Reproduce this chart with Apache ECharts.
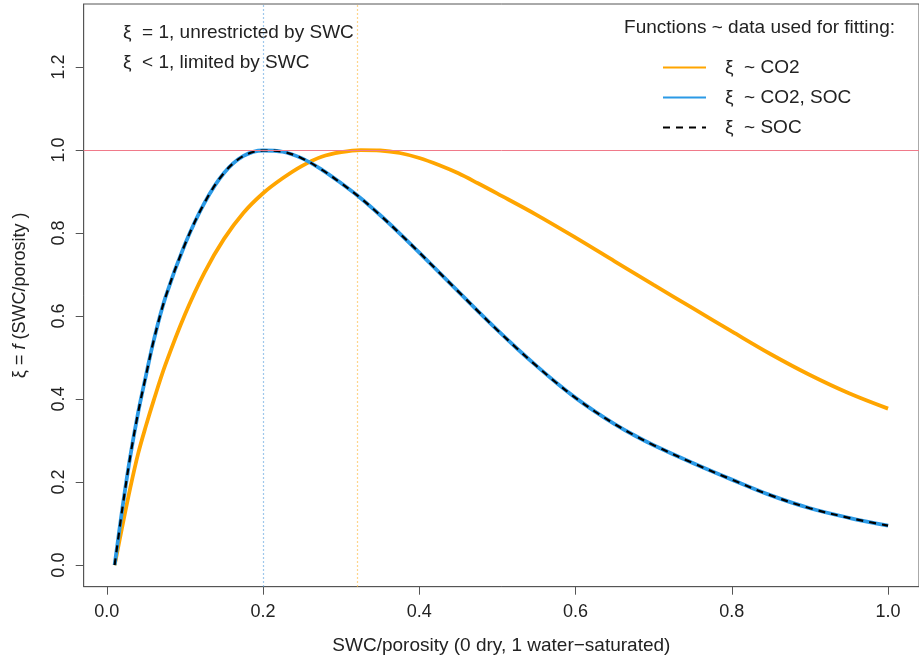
<!DOCTYPE html>
<html>
<head>
<meta charset="utf-8">
<script src="https://cdn.jsdelivr.net/npm/echarts@6/dist/echarts.min.js"></script>
<style>
html,body{margin:0;padding:0;background:#fff;}
#chart{width:919px;height:664px;}
</style>
</head>
<body>
<div id="chart"></div>
<script>
// ---- data ----
const xTicks = [0.0, 0.2, 0.4, 0.6, 0.8, 1.0];
const yTicks = [0.0, 0.2, 0.4, 0.6, 0.8, 1.0, 1.2];

// xi ~ CO2 (orange)
const co2X = [0.01,0.02,0.03,0.04,0.05,0.06,0.075,0.10,0.125,0.15,0.175,0.20,0.225,0.25,0.275,0.30,0.325,0.35,0.375,0.40,0.425,0.45,0.475,0.50,0.55,0.60,0.65,0.70,0.75,0.80,0.85,0.90,0.95,1.00];
const co2Y = [0,0.095,0.186,0.268,0.335,0.397,0.483,0.604,0.705,0.786,0.849,0.896,0.932,0.962,0.984,0.995,1.0,0.999,0.993,0.981,0.964,0.944,0.920,0.895,0.844,0.789,0.732,0.675,0.619,0.563,0.508,0.458,0.414,0.377];

// xi ~ CO2, SOC (blue)
const co2socX = [0.01,0.02,0.03,0.04,0.05,0.06,0.075,0.10,0.125,0.15,0.175,0.20,0.225,0.25,0.275,0.30,0.325,0.35,0.375,0.40,0.425,0.45,0.475,0.50,0.525,0.55,0.575,0.60,0.625,0.65,0.675,0.70,0.75,0.80,0.85,0.90,0.95,1.00];
const co2socY = [0,0.138,0.262,0.367,0.456,0.541,0.645,0.773,0.873,0.945,0.986,0.999,0.996,0.980,0.953,0.920,0.884,0.843,0.799,0.753,0.706,0.659,0.612,0.566,0.522,0.480,0.440,0.403,0.370,0.340,0.313,0.289,0.246,0.206,0.168,0.137,0.114,0.095];

// xi ~ SOC (black dashed) - coincides with the blue curve
const socX = co2socX.slice();
const socY = co2socY.slice();

// reference lines
const peakCO2SOC = 0.2018;
const peakCO2 = 0.3217;
const unrestricted = 1.0;

const seriesNames = ['ξ  ~ CO2', 'ξ  ~ CO2, SOC', 'ξ  ~ SOC'];

function pairs(xs, ys){ return xs.map((x,i)=>[x, ys[i]]); }

const FONT = '"Liberation Sans", Arial, Helvetica, sans-serif';
const chart = echarts.init(document.getElementById('chart'), null, {renderer:'canvas'});

const option = {
  animation: false,
  backgroundColor: '#fff',
  textStyle: {fontFamily: FONT},
  grid: {left: 83.7, top: 4, width: 840.9, height: 582.7, show: true, borderColor: '#555', borderWidth: 1, backgroundColor: 'transparent'},
  xAxis: {
    type: 'value', min: -0.0296, max: 1.0396,
    name: 'SWC/porosity (0 dry, 1 water\u2212saturated)',
    nameLocation: 'middle', nameGap: 50,
    nameTextStyle: {fontSize: 19, color: '#222', fontFamily: FONT},
    axisLine: {show: true, onZero: false, lineStyle: {color: '#555', width: 1}},
    splitLine: {show: false},
    axisTick: {show: true, length: 8, inside: false, customValues: xTicks, lineStyle: {color: '#555', width: 1}},
    axisLabel: {show: true, customValues: xTicks, fontSize: 18, color: '#222', margin: 16, fontFamily: FONT,
      formatter: v => v.toFixed(1)}
  },
  yAxis: {
    type: 'value', min: -0.052, max: 1.352,
    name: '{a|ξ = }{i|f}{a| (SWC/porosity )}',
    nameLocation: 'middle', nameGap: 55, nameRotate: 90,
    nameTextStyle: {fontSize: 18, color: '#222', fontFamily: FONT,
      rich: {a: {fontSize: 18, color: '#222', fontFamily: FONT}, i: {fontSize: 18, color: '#222', fontStyle: 'italic', fontFamily: FONT}}},
    axisLine: {show: true, onZero: false, lineStyle: {color: '#555', width: 1}},
    splitLine: {show: false},
    axisTick: {show: true, length: 8, inside: false, customValues: yTicks, lineStyle: {color: '#555', width: 1}},
    axisLabel: {show: true, customValues: yTicks, fontSize: 18, color: '#222', margin: 16, rotate: 90, fontFamily: FONT,
      formatter: v => v.toFixed(1)}
  },
  legend: {
    orient: 'vertical', left: 657, top: 53,
    itemWidth: 43, itemHeight: 14, itemGap: 11,
    itemStyle: {opacity: 0},
    textStyle: {fontSize: 19, color: '#222', fontFamily: FONT, padding: [0,0,0,14]},
    data: seriesNames
  },
  graphic: [
    {type: 'text', x: 123, y: 33, style: {text: 'ξ  = 1, unrestricted by SWC', font: '19px ' + FONT, fill: '#222', verticalAlign: 'middle'}},
    {type: 'text', x: 123, y: 63, style: {text: 'ξ  < 1, limited by SWC', font: '19px ' + FONT, fill: '#222', verticalAlign: 'middle'}},
    {type: 'text', x: 895, y: 28, style: {text: 'Functions ~ data used for fitting:', font: '19px ' + FONT, fill: '#222', align: 'right', verticalAlign: 'middle'}}
  ],
  series: [
    {
      name: seriesNames[0], type: 'line', data: pairs(co2X, co2Y), showSymbol: false, symbol: 'none',
      smooth: 0.35, lineStyle: {color: '#FFA500', width: 3.8}, itemStyle: {color: '#FFA500'}, z: 3,
      markLine: {
        silent: true, symbol: 'none', label: {show: false}, z: 1,
        lineStyle: {color: '#FFB940', type: [1.5, 2.5], width: 1.2, opacity: 0.8},
        data: [{xAxis: peakCO2}]
      }
    },
    {
      name: seriesNames[1], type: 'line', data: pairs(co2socX, co2socY), showSymbol: false, symbol: 'none',
      smooth: 0.35, lineStyle: {color: '#2B9AE6', width: 3.8}, itemStyle: {color: '#2B9AE6'}, z: 4,
      markLine: {
        silent: true, symbol: 'none', label: {show: false}, z: 1,
        lineStyle: {color: '#5FA3DE', type: [1.5, 2.5], width: 1.2, opacity: 0.8},
        data: [{xAxis: peakCO2SOC}]
      }
    },
    {
      name: seriesNames[2], type: 'line', data: pairs(socX, socY), showSymbol: false, symbol: 'none',
      smooth: 0.35, lineStyle: {color: '#000', width: 2.2, type: [7, 6]}, itemStyle: {color: '#000'}, z: 5,
      markLine: {
        silent: true, symbol: 'none', label: {show: false}, z: 6,
        lineStyle: {color: '#F07A8A', type: 'solid', width: 1},
        data: [{yAxis: unrestricted}]
      }
    }
  ]
};
chart.setOption(option);
</script>
</body>
</html>
